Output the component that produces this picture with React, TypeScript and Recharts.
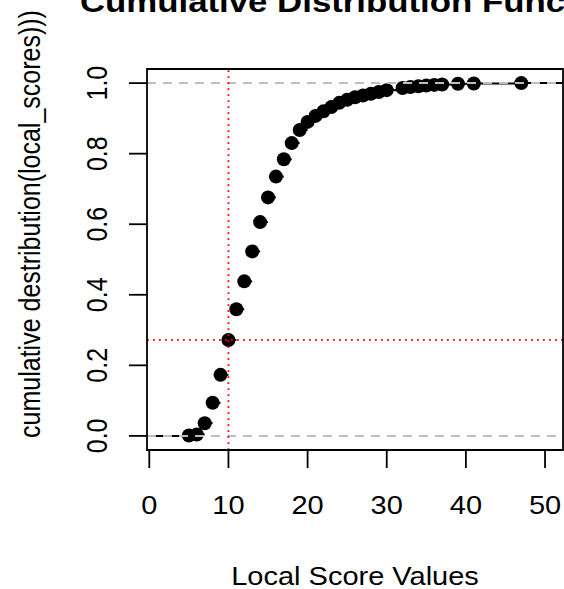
import React from "react";
import { ScatterChart, Scatter, XAxis, YAxis, ReferenceLine, ReferenceArea } from "recharts";

// ecdf of local scores
const scoreValues = [5, 6, 7, 8, 9, 10, 11, 12, 13, 14, 15, 16, 17, 18, 19, 20, 21, 22, 23, 24, 25, 26, 27, 28, 29, 30, 32, 33, 34, 35, 36, 37, 39, 41, 47];
const cumulative = [0.001, 0.004, 0.036, 0.094, 0.173, 0.272, 0.359, 0.438, 0.523, 0.606, 0.676, 0.735, 0.784, 0.83, 0.867, 0.89, 0.907, 0.92, 0.932, 0.944, 0.953, 0.96, 0.965, 0.97, 0.975, 0.98, 0.986, 0.989, 0.991, 0.993, 0.995, 0.996, 0.998, 0.999, 1.0];
const xTicks = [0, 10, 20, 30, 40, 50];
const yTicks = [0, 0.2, 0.4, 0.6, 0.8, 1.0];
const xDomain = [-0.29, 52.27];
const yDomain = [-0.04, 1.04];
const cutoff = 10;

const points = scoreValues.map((x, i) => ({ x, y: cumulative[i] }));
const cutoffValue = cumulative[scoreValues.indexOf(cutoff)];

const FONT = "'Liberation Sans', Arial, Helvetica, sans-serif";
const SX = 1.16;

const XTick = ({ x, payload }: any) => (
  <g transform={`translate(${x},514) scale(${SX},1)`}>
    <text textAnchor="middle" fontSize={25} fontFamily={FONT} fill="#000">
      {payload.value}
    </text>
  </g>
);

const YTick = ({ y, payload }: any) => (
  <g transform={`translate(107,${y}) scale(${SX},1) rotate(-90)`}>
    <text textAnchor="middle" fontSize={25} fontFamily={FONT} fill="#000">
      {Number(payload.value).toFixed(1)}
    </text>
  </g>
);

const Dot = (props: any) => <circle cx={props.cx} cy={props.cy} r={7} fill="#000" />;

export default function App() {
  const steps = [
    [{ x: xDomain[0], y: 0 }, { x: scoreValues[0], y: 0 }],
    ...points.slice(0, -1).map((p, i) => [{ x: p.x, y: p.y }, { x: scoreValues[i + 1], y: p.y }]),
    [{ x: scoreValues[scoreValues.length - 1], y: 1 }, { x: xDomain[1], y: 1 }],
  ];

  return (
    <div style={{ position: "absolute", left: 0, top: 0, width: 564, height: 589, background: "#fff" }}>
      <ScatterChart width={564} height={589} margin={{ top: 69, right: 1, bottom: 0, left: 0 }}>
        <XAxis
          type="number"
          dataKey="x"
          domain={xDomain}
          ticks={xTicks}
          allowDataOverflow
          axisLine={false}
          tickLine={{ stroke: "#000", strokeWidth: 1.8 }}
          tickSize={18}
          height={139}
          tick={XTick}
        />
        <YAxis
          type="number"
          dataKey="y"
          domain={yDomain}
          ticks={yTicks}
          allowDataOverflow
          axisLine={false}
          tickLine={{ stroke: "#000", strokeWidth: 1.8 }}
          tickSize={18}
          width={147}
          tick={YTick}
        />
        {steps.map((s, i) => (
          <ReferenceLine key={i} segment={s} stroke="#000" strokeWidth={2} ifOverflow="hidden" />
        ))}
        <Scatter data={points} shape={Dot} isAnimationActive={false} />
        <ReferenceLine y={0} stroke="#bebebe" strokeWidth={2} strokeDasharray="9 7" zIndex={1000} />
        <ReferenceLine y={1} stroke="#bebebe" strokeWidth={2} strokeDasharray="9 7" zIndex={1000} />
        <ReferenceLine x={cutoff} stroke="#ff0000" strokeWidth={1.8} strokeDasharray="1.8 4.2" zIndex={1000} />
        <ReferenceLine y={cutoffValue} stroke="#ff0000" strokeWidth={1.8} strokeDasharray="1.8 4.2" zIndex={1000} />
        <ReferenceArea
          x1={xDomain[0]}
          x2={xDomain[1]}
          y1={yDomain[0]}
          y2={yDomain[1]}
          fill="none"
          fillOpacity={0}
          stroke="#000"
          strokeWidth={1.8}
          zIndex={1000}
        />
      </ScatterChart>
      <svg width={564} height={589} style={{ position: "absolute", left: 0, top: 0, pointerEvents: "none" }}>
        <g transform={`translate(80,12) scale(${SX},1)`}>
          <text fontSize={30} fontWeight="bold" fontFamily={FONT} fill="#000">
            Cumulative Distribution Function
          </text>
        </g>
        <g transform={`translate(355,585) scale(${SX},1)`}>
          <text textAnchor="middle" fontSize={25} fontFamily={FONT} fill="#000">
            Local Score Values
          </text>
        </g>
        <g transform={`translate(40,224) scale(${SX},1) rotate(-90)`}>
          <text textAnchor="middle" fontSize={25} fontFamily={FONT} fill="#000">
            cumulative destribution(local_scores)))
          </text>
        </g>
      </svg>
    </div>
  );
}
